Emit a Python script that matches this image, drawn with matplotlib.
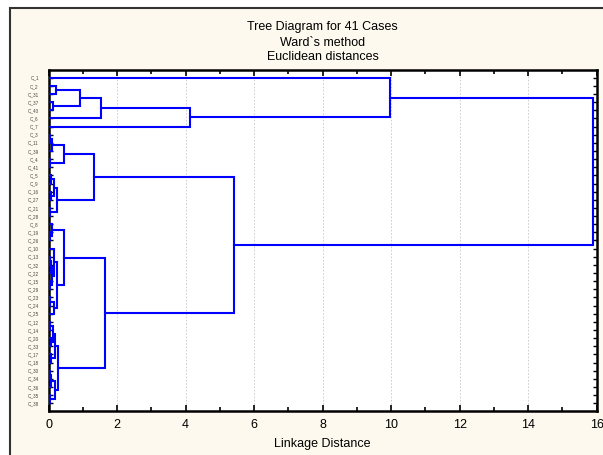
import matplotlib
matplotlib.use('Agg')
import matplotlib.pyplot as plt
from matplotlib.patches import Rectangle
from matplotlib.ticker import MultipleLocator

plt.rcParams['font.family'] = ['Liberation Sans', 'DejaVu Sans']

# casos en el orden del dendrograma (de arriba a abajo)
hojas = ['C_1', 'C_2', 'C_31', 'C_37', 'C_40', 'C_6', 'C_7', 'C_3', 'C_11', 'C_39',
         'C_4', 'C_41', 'C_5', 'C_9', 'C_16', 'C_27', 'C_21', 'C_28', 'C_8', 'C_19',
         'C_26', 'C_10', 'C_13', 'C_32', 'C_22', 'C_15', 'C_29', 'C_23', 'C_24', 'C_25',
         'C_12', 'C_14', 'C_20', 'C_33', 'C_17', 'C_18', 'C_30', 'C_34', 'C_36', 'C_35',
         'C_38']

# uniones: (a, b, distancia); a/b es un caso o el indice de una union anterior
uniones = [
    ('C_2', 'C_31', 0.23), ('C_37', 'C_40', 0.14), (0, 1, 0.93), (2, 'C_6', 1.53),
    (3, 'C_7', 4.13), ('C_1', 4, 9.97),
    ('C_3', 'C_11', 0.05), (6, 'C_39', 0.10), ('C_4', 'C_41', 0.05), (7, 8, 0.46),
    ('C_5', 'C_9', 0.06), ('C_16', 'C_27', 0.08), (10, 11, 0.17), ('C_21', 'C_28', 0.05),
    (12, 13, 0.25), (9, 14, 1.33),
    ('C_19', 'C_26', 0.04), ('C_8', 16, 0.10), ('C_13', 'C_32', 0.04), (18, 'C_22', 0.07),
    ('C_15', 'C_29', 0.05), (19, 20, 0.10), ('C_10', 21, 0.15), ('C_23', 'C_24', 0.05),
    (23, 'C_25', 0.17), (22, 24, 0.26), (17, 25, 0.45),
    ('C_12', 'C_14', 0.04), ('C_20', 'C_33', 0.06), (27, 28, 0.12), ('C_17', 'C_18', 0.07),
    (29, 30, 0.19), ('C_30', 'C_34', 0.04), (32, 'C_36', 0.08), ('C_35', 'C_38', 0.05),
    (33, 34, 0.18), (31, 35, 0.29),
    (26, 36, 1.65), (15, 37, 5.41), (5, 38, 15.90),
]

titulo = 'Tree Diagram for 41 Cases'
subtitulo = 'Ward`s method\nEuclidean distances'
etiqueta_x = 'Linkage Distance'

pos = {h: i + 1 for i, h in enumerate(hojas)}
centros = []
alturas = []


def nodo(ref):
    if isinstance(ref, str):
        return pos[ref], 0.0
    return centros[ref], alturas[ref]


fig = plt.figure(figsize=(6.03, 4.55), dpi=100)
fig.patch.set_facecolor('white')
# marco de fondo estilo Statistica
fig.add_artist(Rectangle((10 / 603, -0.1), 1.2, 1.1 - 8 / 455,
                         transform=fig.transFigure, facecolor='#fef9ee',
                         edgecolor='#333333', lw=1.5, zorder=-1))

ax = fig.add_axes([48.5 / 603, 44.3 / 455, 548.2 / 603, 340.7 / 455])
ax.set_facecolor('white')

for a, b, d in uniones:
    ya, ha = nodo(a)
    yb, hb = nodo(b)
    ax.plot([ha, d, d, hb], [ya, ya, yb, yb], color='#0000ff', lw=1.5,
            solid_joinstyle='miter', zorder=3)
    centros.append((ya + yb) / 2)
    alturas.append(d)

ax.set_xlim(0, 16)
ax.set_ylim(41.92, 0.05)
ax.xaxis.set_major_locator(MultipleLocator(2))
ax.xaxis.set_minor_locator(MultipleLocator(1))
ax.set_yticks(range(1, len(hojas) + 1))
ax.set_yticklabels(hojas, fontsize=3.3, color='#444444')
ax.tick_params(axis='x', which='both', direction='in', top=True, labelsize=9, pad=6,
               width=1.2)
ax.tick_params(axis='x', which='major', length=4)
ax.tick_params(axis='x', which='minor', length=3)
ax.tick_params(axis='y', direction='in', right=True, length=3, width=1.0, pad=7)
ax.grid(True, axis='x', which='major', color='#c8c8c8', linestyle=(0, (2, 2)), lw=0.6)
for s in ax.spines.values():
    s.set_linewidth(1.8)
    s.set_color('black')

ax.set_xlabel(etiqueta_x, fontsize=9, labelpad=5)

cx = (48.5 + 548.2 / 2) / 603
fig.text(cx, 1 - 27 / 455, titulo, ha='center', va='center', fontsize=9)
fig.text(cx, 1 - 50 / 455, subtitulo, ha='center', va='center', fontsize=9,
         linespacing=1.15)

fig.savefig('out.png', dpi=100)
